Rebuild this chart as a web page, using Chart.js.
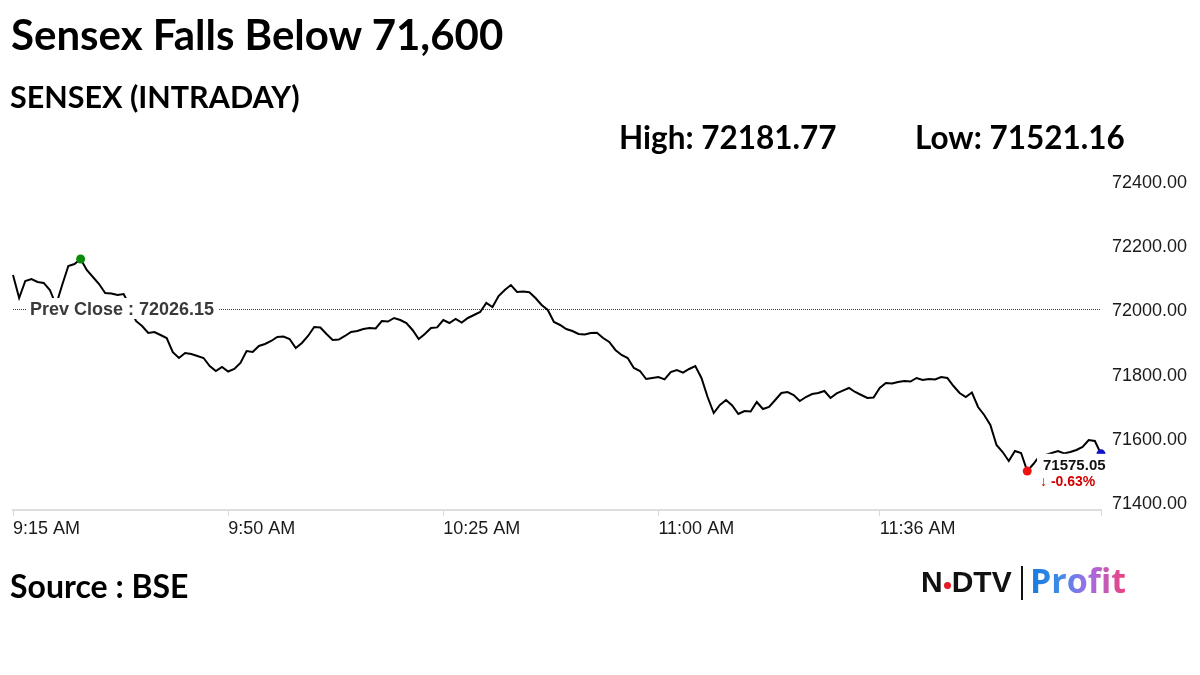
<!DOCTYPE html>
<html>
<head>
<meta charset="utf-8">
<script src="https://cdn.jsdelivr.net/npm/chart.js@4.4.1/dist/chart.umd.min.js"></script>
<style>
  html, body { margin: 0; padding: 0; background: #fff; }
  #page { position: relative; width: 1200px; height: 675px; overflow: hidden; font-family: Lato, "Open Sans", sans-serif; }
  #chartBox { position: absolute; left: 0; top: 0; width: 1200px; height: 675px; }
  .txt { position: absolute; white-space: nowrap; line-height: 1; color: #000; font-weight: 700; }
  #title { left: 11px; top: 13px; font-size: 42px; }
  #sub { left: 10px; top: 81px; font-size: 30.5px; }
  #high { left: 619px; top: 122px; font-size: 31.5px; }
  #low { left: 915px; top: 122px; font-size: 31.5px; }
  #source { left: 10px; top: 570px; font-size: 32px; }
  #logo { position: absolute; left: 921px; top: 564px; height: 38px; }
  #ndtv { position: absolute; left: 0; top: 3px; display: flex; align-items: center; font: 900 30px "Liberation Sans", Arial, sans-serif; line-height: 1; color: #111; }
  #ndtv .dot { width: 7px; height: 7px; border-radius: 50%; background: #e41b23; margin: 6px 1px 0 1px; }
  #bar { position: absolute; left: 100px; top: 2px; width: 2px; height: 34px; background: #111; }
  #profit { position: absolute; left: 109px; top: -1px; font: 700 34px "Open Sans", sans-serif; line-height: 1;
    background: linear-gradient(90deg, #1479e0 0%, #3d8be6 30%, #a06ee8 60%, #f0407c 100%);
    -webkit-background-clip: text; background-clip: text; color: transparent; }
</style>
</head>
<body>
<div id="page">
  <div id="chartBox"><canvas id="sensexChart" width="1200" height="675"></canvas></div>
  <div class="txt" id="title">Sensex Falls Below 71,600</div>
  <div class="txt" id="sub">SENSEX (INTRADAY)</div>
  <div class="txt" id="high">High: 72181.77</div>
  <div class="txt" id="low">Low: 71521.16</div>
  <div class="txt" id="source">Source : BSE</div>
  <div id="logo">
    <div id="ndtv"><span>N</span><span class="dot"></span><span>DTV</span></div>
    <div id="bar"></div>
    <div id="profit">Profit</div>
  </div>
</div>
<script>
// one reading per minute from 9:15 AM
const prices = [
  72132.1, 72060.4, 72113.4, 72119.6, 72110.3, 72107.5, 72085.4, 72038.6, 72100.9, 72160.1,
  72166.3, 72181.77, 72147.7, 72125.8, 72104.0, 72076.0, 72074.5, 72069.8, 72072.9, 72035.5,
  71988.8, 71973.2, 71951.4, 71954.5, 71945.2, 71935.8, 71891.8, 71873.5, 71889.1, 71886.0,
  71879.8, 71873.5, 71848.6, 71833.0, 71845.5, 71831.4, 71839.3, 71858.0, 71895.3, 71892.2,
  71910.9, 71917.1, 71926.5, 71938.9, 71940.2, 71932.7, 71904.7, 71920.2, 71942.1, 71970.1,
  71968.4, 71948.3, 71929.6, 71931.0, 71942.1, 71954.5, 71957.6, 71963.9, 71967.0, 71965.5,
  71988.8, 71987.1, 71998.2, 71991.9, 71982.6, 71960.8, 71932.7, 71948.3, 71967.0, 71968.9,
  71991.9, 71982.6, 71995.0, 71983.9, 71998.2, 72007.5, 72016.8, 72044.9, 72032.4, 72066.7,
  72085.4, 72100.9, 72079.1, 72081.0, 72078.2, 72060.4, 72038.6, 72023.1, 71985.7, 71976.4,
  71963.9, 71957.6, 71948.3, 71947.0, 71951.4, 71952.3, 71935.8, 71923.4, 71898.5, 71882.9,
  71873.5, 71842.4, 71833.0, 71808.1, 71811.2, 71814.3, 71806.9, 71829.9, 71836.2, 71828.2,
  71839.3, 71848.6, 71811.2, 71752.0, 71702.2, 71727.1, 71742.7, 71725.8, 71699.1, 71708.4,
  71706.9, 71736.4, 71714.6, 71720.9, 71742.7, 71764.5, 71767.6, 71758.3, 71739.6, 71752.0,
  71761.4, 71764.5, 71770.7, 71748.9, 71763.2, 71772.0, 71780.1, 71767.6, 71758.3, 71748.9,
  71750.4, 71780.1, 71795.8, 71794.1, 71798.9, 71802.0, 71800.3, 71811.2, 71805.0, 71808.1,
  71806.6, 71814.3, 71811.2, 71786.3, 71764.5, 71752.0, 71766.0, 71720.9, 71696.0, 71664.8,
  71602.5, 71580.7, 71552.7, 71583.8, 71577.6, 71521.16, 71543.3, 71568.3, 71571.4, 71577.6,
  71583.8, 71576.0, 71580.7, 71587.0, 71596.3, 71618.1, 71615.0, 71575.05
];
const minutes = prices.map((p, i) => i);

const prevClose = 72026.15;
const changePct = '-0.63%';
const tickMinutes = [0, 35, 70, 105, 141, 177];
const tickLabels = ['9:15 AM', '9:50 AM', '10:25 AM', '11:00 AM', '11:36 AM', ''];
const yTicks = [71400, 71600, 71800, 72000, 72200, 72400];

const highIdx = prices.indexOf(Math.max(...prices));
const lowIdx = prices.indexOf(Math.min(...prices));
const lastIdx = prices.length - 1;

const dotRadius = prices.map((p, i) => (i === highIdx || i === lowIdx || i === lastIdx) ? 4.5 : 0);
const dotColor = prices.map((p, i) => i === highIdx ? '#0a8a0a' : i === lowIdx ? '#ee1111' : '#1010c8');

const markers = {
    id: 'markers',
    beforeDatasetsDraw(chart) {
        const { ctx, chartArea, scales } = chart;
        const y = Math.round(scales.y.getPixelForValue(prevClose)) + 0.5;
        ctx.save();
        ctx.strokeStyle = '#d00000';
        ctx.lineWidth = 1;
        ctx.setLineDash([1, 1]);
        ctx.beginPath();
        ctx.moveTo(chartArea.left, y);
        ctx.lineTo(chartArea.right, y);
        ctx.stroke();
        ctx.restore();
    },
    afterDatasetsDraw(chart) {
        const { ctx, chartArea, scales } = chart;
        const y = scales.y.getPixelForValue(prevClose);
        ctx.save();
        ctx.font = 'bold 18px "Liberation Sans", Arial, sans-serif';
        const label = 'Prev Close : ' + prevClose.toFixed(2);
        const w = ctx.measureText(label).width;
        ctx.fillStyle = '#fff';
        ctx.fillRect(chartArea.left + 14, y - 11, w + 8, 21);
        ctx.fillStyle = '#3a3a3a';
        ctx.textBaseline = 'middle';
        ctx.fillText(label, chartArea.left + 17, y + 1);

        // last price box
        const px = scales.x.getPixelForValue(minutes[lastIdx]);
        const py = scales.y.getPixelForValue(prices[lastIdx]);
        ctx.fillStyle = '#fff';
        ctx.fillRect(px - 64, py, 76, 36);
        ctx.font = 'bold 15px "Liberation Sans", Arial, sans-serif';
        ctx.fillStyle = '#111';
        ctx.fillText(prices[lastIdx].toFixed(2), px - 58, py + 12);
        ctx.font = 'bold 14px "Liberation Sans", Arial, sans-serif';
        ctx.fillStyle = '#d40000';
        ctx.fillText('\u2193 ' + changePct, px - 61, py + 28);
        ctx.restore();
    }
};

const ctx = document.getElementById('sensexChart').getContext('2d');
const sensexChart = new Chart(ctx, {
    type: 'line',
    data: {
        labels: minutes,
        datasets: [{
            data: prices.map((p, i) => ({ x: minutes[i], y: p })),
            borderColor: '#000',
            borderWidth: 2,
            tension: 0,
            clip: 8,
            pointRadius: dotRadius,
            pointBackgroundColor: dotColor,
            pointBorderWidth: 0,
            pointHoverRadius: 0
        }]
    },
    options: {
        responsive: false,
        animation: false,
        layout: { padding: { left: 13, top: 189, right: 0, bottom: 0 } },
        plugins: {
            legend: { display: false },
            tooltip: { enabled: false }
        },
        scales: {
            x: {
                type: 'linear',
                min: 0,
                max: 177,
                afterBuildTicks: (s) => { s.ticks = tickMinutes.map(v => ({ value: v })); },
                afterFit: (s) => { s.height = 165; },
                grid: { drawOnChartArea: false, drawTicks: true, tickLength: 6, color: '#d8d8d8' },
                border: { display: true, color: '#dddddd', width: 2 },
                ticks: {
                    align: 'start',
                    maxRotation: 0,
                    padding: 2,
                    color: '#1a1a1a',
                    font: { family: '"Liberation Sans", Arial, sans-serif', size: 18 },
                    callback: (v, i) => tickLabels[i]
                }
            },
            y: {
                position: 'right',
                min: 71400,
                max: 72400,
                afterBuildTicks: (s) => { s.ticks = yTicks.map(v => ({ value: v })); },
                afterFit: (s) => { s.width = 99; },
                grid: { display: false, drawTicks: false },
                border: { display: false },
                ticks: {
                    padding: 11,
                    labelOffset: -6,
                    color: '#1a1a1a',
                    font: { family: '"Liberation Sans", Arial, sans-serif', size: 18 },
                    callback: (v) => Number(v).toFixed(2)
                }
            }
        }
    },
    plugins: [markers]
});
</script>
</body>
</html>
